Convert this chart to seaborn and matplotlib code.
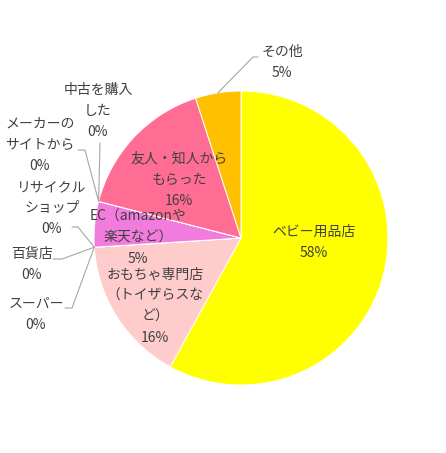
import numpy as np
import seaborn as sns
import matplotlib.pyplot as plt

# data
categories = ["ベビー用品店", "おもちゃ専門店（トイザらスなど）", "スーパー", "百貨店",
              "リサイクルショップ", "EC（amazonや楽天など）", "メーカーのサイトから",
              "中古を購入した", "友人・知人からもらった", "その他"]
shown = ["ベビー用品店", "おもちゃ専門店\n（トイザらスな\nど）", "スーパー", "百貨店",
         "リサイクル\nショップ", "EC（amazonや\n楽天など）", "メーカーの\nサイトから",
         "中古を購入\nした", "友人・知人から\nもらった", "その他"]
values = [58, 16, 0, 0, 0, 5, 0, 0, 16, 5]
colors = ["#FFFF00", "#FFCCCC", "#FFFFFF", "#FFFFFF", "#FFFFFF", "#F27CDD",
          "#FFFFFF", "#FFFFFF", "#FF6C94", "#FFC000"]

# layout (pixels in the 446x453 image)
W, H = 446, 453
CX, CY, R = 241, 238, 147
label_px = [(314, 242), (155, 306), (36, 314), (32, 264), (52, 208),
            (138, 238), (40, 145), (98, 111), (179, 180), (282, 62)]
# leader lines: (start, elbow) or None
leaders = {2: [(65, 308), (72, 308)], 3: [(53, 259), (62, 259)],
           4: [(72, 227), (78, 227)], 6: [(78, 150), (85, 150)],
           7: [(100, 143)], 9: [(258, 57), (253, 57)]}

sns.set_style("white")
plt.rcParams['font.family'] = ['Noto Sans CJK JP', 'DejaVu Sans']

fig = plt.figure(figsize=(W / 100, H / 100), dpi=100)
ax = fig.add_axes([(CX - R) / W, (H - CY - R) / H, 2 * R / W, 2 * R / H])
ax.pie(values, colors=colors, startangle=90, counterclock=False, radius=1,
       wedgeprops=dict(edgecolor="white", linewidth=0.7))
ax.set_xlim(-1, 1)
ax.set_ylim(-1, 1)
ax.set_aspect("auto")
ax.axis("off")


def to_data(p):
    return ((p[0] - CX) / R, (CY - p[1]) / R)


total = sum(values)
cum = np.cumsum([0] + values)
for i, (txt, v) in enumerate(zip(shown, values)):
    pct = round(100 * v / total)
    x, y = to_data(label_px[i])
    ax.text(x, y, f"{txt}\n{pct}%", ha="center", va="center", fontsize=10,
            color="#404040", linespacing=1.65, clip_on=False)
    if i in leaders:
        # point on the rim: middle of the wedge
        frac = (cum[i] + cum[i + 1]) / 2 / total
        ang = np.deg2rad(90 - 360 * frac)
        pts = [to_data(p) for p in leaders[i]] + [(np.cos(ang), np.sin(ang))]
        xs, ys = zip(*pts)
        ax.plot(xs, ys, color="#A6A6A6", lw=0.8, clip_on=False)

fig.savefig("out.png", dpi=100)
